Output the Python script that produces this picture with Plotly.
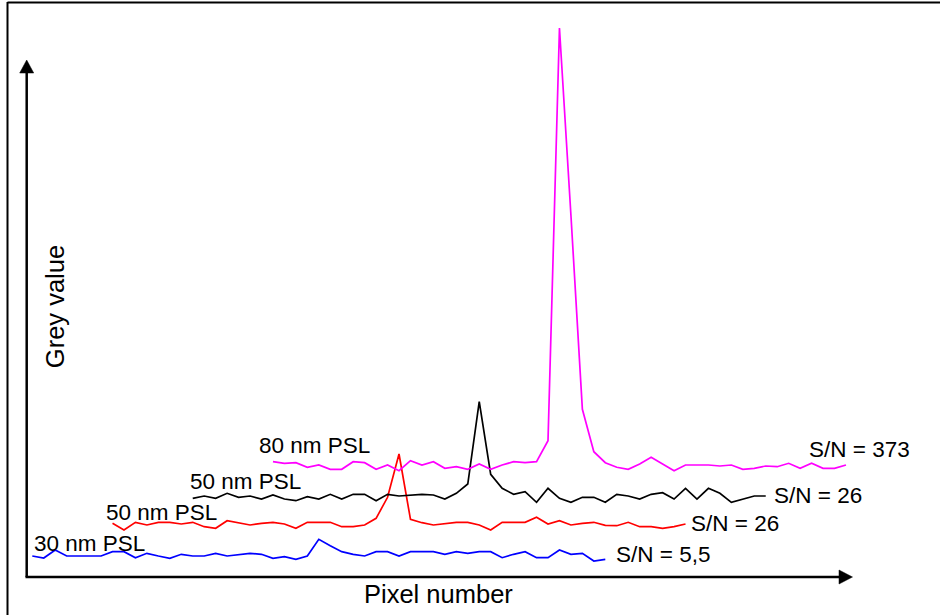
import plotly.graph_objects as go

# ---------------- data ----------------
pixel_index = list(range(51))

# grey-value profiles (arbitrary units)
grey_30nm = [10, 8, 16, 10, 10, 10, 10, 14.3, 14.3, 8.3, 12.7, 10, 7.7, 11.7, 10, 10, 12.7, 10, 11.7, 12.7,
             11.7, 7.7, 9.3, 6.7, 10, 26.7, 20.3, 14.3, 11.7, 10, 14.3, 14.3, 10, 14.3, 14.3, 14.3, 11.7, 14.3,
             12.7, 14.3, 14.3, 8.3, 11.7, 14.3, 8.3, 8.3, 16, 11.7, 12.7, 5, 6.7]
grey_50nm_a = [8.7, 2, 9.7, 7, 9.7, 9.7, 8, 9.7, 5.3, 3.7, 11.3, 9.3, 7, 8.7, 9.7, 8, 3.7, 9.7, 9.7, 9.7,
               5.3, 5.3, 7, 13.7, 34.7, 78, 12.7, 9.3, 7, 8.7, 9.7, 9.7, 7, 2, 9.7, 9.7, 9.7, 14.7, 8, 11.3,
               7, 8.7, 9.7, 6.7, 6.3, 9.7, 5.3, 5.3, 3.7, 5.3, 8]
grey_50nm_b = [7.7, 10, 7.7, 12.7, 8.7, 10, 7, 11, 7, 5.3, 9.3, 7, 11.7, 7, 11.7, 11.7, 5.3, 11.7, 10, 11,
               11.7, 11, 7, 12.7, 22, 104.3, 31.7, 17.7, 11.7, 14.3, 3.7, 17.7, 7.7, 3.7, 8.7, 8.7, 3.7, 11.7,
               10, 7, 11.7, 13.3, 7, 17.7, 7, 17.7, 12.7, 3.7, 7, 10, 10]
grey_80nm = [13.3, 11.7, 12.3, 7.7, 10, 5.7, 5.7, 13.3, 12.3, 5.7, 10, 4.3, 14.3, 10, 13.3, 6.7, 8.3, 5.7, 11,
             5.7, 10, 13.3, 12.3, 13.3, 34.3, 447, 260, 65.7, 23.3, 12.3, 7.7, 5.7, 11, 17.7, 11, 4.3, 10, 10,
             10, 9, 10, 5.7, 6.7, 9, 8.3, 11.7, 6.7, 11.7, 6.7, 6.7, 10]

series_names = ["30 nm PSL", "50 nm PSL", "50 nm PSL", "80 nm PSL"]
sn_labels = ["S/N = 5,5", "S/N = 26", "S/N = 26", "S/N = 373"]
profiles = [grey_30nm, grey_50nm_a, grey_50nm_b, grey_80nm]

# waterfall offsets (layout, not data)
x_shift = [0, 7, 14, 21]
y_shift = [11, 45, 71, 102]
colors = ["#0000ff", "#ff0000", "#000000", "#ff00ff"]

W, H = 940, 615
FONT = "Liberation Sans, Arial, sans-serif"
FS = 22.5
FS_TITLE = 25.5


def px(x):
    return x / W


def py(y):
    return 1 - y / H


fig = go.Figure()
for name, prof, dx, dy, c in zip(series_names, profiles, x_shift, y_shift, colors):
    fig.add_trace(go.Scatter(
        x=[i + dx for i in pixel_index],
        y=[v + dy for v in prof],
        mode="lines",
        line=dict(color=c, width=1.7),
        name=name,
        hoverinfo="skip",
        showlegend=False,
    ))

# axis mapping: sample 0 at 32.3 px, 11.46 px per sample; grey 0 at 577 px, 1 px per unit
step = 11.46
x0 = -32.3 / step
x1 = x0 + W / step

shapes = []
# frame (top and left)
shapes.append(dict(type="line", xref="paper", yref="paper", x0=px(7.5), x1=px(W + 5), y0=py(2.5), y1=py(2.5),
                   line=dict(color="black", width=2)))
shapes.append(dict(type="line", xref="paper", yref="paper", x0=px(7.5), x1=px(7.5), y0=py(2), y1=py(H + 5),
                   line=dict(color="black", width=2)))
# axes
shapes.append(dict(type="line", xref="paper", yref="paper", x0=px(26.7), x1=px(26.7), y0=py(577), y1=py(72),
                   line=dict(color="black", width=2.5)))
shapes.append(dict(type="line", xref="paper", yref="paper", x0=px(25.5), x1=px(840), y0=py(577), y1=py(577),
                   line=dict(color="black", width=2.5)))
# arrow heads
shapes.append(dict(type="path", xref="paper", yref="paper",
                   path=f"M {px(26.7)} {py(60)} L {px(33.7)} {py(73)} L {px(19.7)} {py(73)} Z",
                   fillcolor="black", line=dict(color="black", width=0.5)))
shapes.append(dict(type="path", xref="paper", yref="paper",
                   path=f"M {px(852.5)} {py(577)} L {px(839)} {py(570)} L {px(839)} {py(584)} Z",
                   fillcolor="black", line=dict(color="black", width=0.5)))

annotations = []
left_pos = [(33, 543.5), (105, 512), (189, 481), (258, 445)]
right_pos = [(615, 554.5), (690, 523.5), (772.5, 495), (807.5, 449)]
for name, (lx, ly) in zip(series_names, left_pos):
    annotations.append(dict(text=name, xref="paper", yref="paper", x=px(lx), y=py(ly), xanchor="left",
                            yanchor="middle", showarrow=False, borderpad=0,
                            font=dict(family=FONT, size=FS, color="black")))
for lab, (lx, ly) in zip(sn_labels, right_pos):
    annotations.append(dict(text=lab, xref="paper", yref="paper", x=px(lx), y=py(ly), xanchor="left",
                            yanchor="middle", showarrow=False, borderpad=0,
                            font=dict(family=FONT, size=FS, color="black")))
annotations.append(dict(text="Pixel number", xref="paper", yref="paper", x=px(438.3), y=py(593.5),
                        xanchor="center", yanchor="middle", showarrow=False, borderpad=0,
                        font=dict(family=FONT, size=FS_TITLE, color="black")))
annotations.append(dict(text="Grey value", xref="paper", yref="paper", x=px(54.5), y=py(306.7),
                        xanchor="center", yanchor="middle", showarrow=False, textangle=-90, borderpad=0,
                        font=dict(family=FONT, size=FS_TITLE, color="black")))

fig.update_layout(
    width=W, height=H,
    margin=dict(l=0, r=0, t=0, b=0, pad=0),
    paper_bgcolor="white", plot_bgcolor="white",
    xaxis=dict(range=[x0, x1], visible=False, fixedrange=True),
    yaxis=dict(range=[-38, 577], visible=False, fixedrange=True),
    shapes=shapes,
    annotations=annotations,
    showlegend=False,
)

fig.write_html("out.html", config=dict(displayModeBar=False),
               post_script="document.body.style.margin='0px';document.body.style.padding='0px';")
